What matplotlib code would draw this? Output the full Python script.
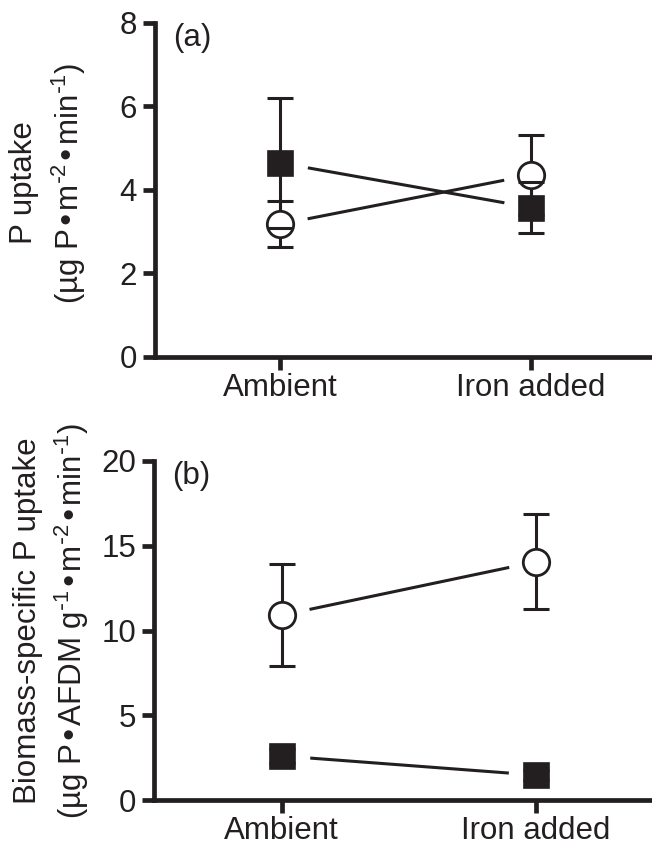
import numpy as np
import matplotlib
matplotlib.use('Agg')
import matplotlib.pyplot as plt

plt.rcParams['font.family'] = ['Liberation Sans', 'DejaVu Sans']
plt.rcParams['mathtext.default'] = 'regular'

# data
groups = ['Ambient', 'Iron added']

a_open = [3.18, 4.36]
a_open_err = [0.55, 0.96]
a_fill = [4.65, 3.58]
a_fill_err = [1.55, 0.60]

b_open = [10.9, 14.05]
b_open_err = [3.0, 2.8]
b_fill = [2.6, 1.47]
b_fill_err = [0.4, 0.3]

K = '#231f20'
FS = 22.5
W, H = 652, 848

fig = plt.figure(figsize=(W/100, H/100), dpi=100)


def panel(ax, y_open, e_open, y_fill, e_fill, xlim, ylim, yticks, tag):
    x = np.arange(len(groups))
    # connecting lines, with white halos to leave a gap at the markers
    ax.plot(x, y_open, color=K, lw=2.2, zorder=1, solid_capstyle='butt')
    ax.plot(x, y_fill, color=K, lw=2.2, zorder=1, solid_capstyle='butt')
    for yy in (y_open, y_fill):
        ax.plot(x, yy, ls='none', marker='o', ms=40, mfc='white', mec='none', zorder=1.5)

    # open circles
    ax.errorbar(x, y_open, yerr=e_open, fmt='none', ecolor=K, elinewidth=2.2,
                capsize=9.7, capthick=2.2, zorder=3)
    ax.plot(x, y_open, ls='none', marker='o', ms=19, mfc='white', mec=K, mew=2.0, zorder=4)

    # filled squares
    _, caps, bars = ax.errorbar(x, y_fill, yerr=e_fill, fmt='none', ecolor=K, elinewidth=2.2,
                                capsize=9.7, capthick=2.2)
    for c in caps:
        c.set_zorder(5)
    for b in bars:
        b.set_zorder(2)
    ax.plot(x, y_fill, ls='none', marker='s', ms=18, mfc=K, mec=K, mew=1.2, zorder=6)

    ax.set_xlim(*xlim)
    ax.set_ylim(*ylim)
    ax.set_yticks(yticks)
    ax.set_xticks(x)
    ax.set_xticklabels(groups)
    for s in ('top', 'right'):
        ax.spines[s].set_visible(False)
    for s in ('left', 'bottom'):
        ax.spines[s].set_linewidth(3.4)
        ax.spines[s].set_color(K)
    ax.tick_params(axis='both', length=9, width=3.4, color=K, labelsize=FS, labelcolor=K)
    ax.tick_params(axis='y', pad=4)
    ax.tick_params(axis='x', pad=2.5)
    ax.text(0.036, 1.0, tag, transform=ax.transAxes, ha='left', va='top', fontsize=FS, color=K)


ax1 = fig.add_axes([155/W, 1 - 357/H, 496/W, 334/H])
panel(ax1, a_open, a_open_err, a_fill, a_fill_err, (-0.498, 1.478), (0, 8), [0, 2, 4, 6, 8], '(a)')

ax2 = fig.add_axes([154/W, 1 - 800/H, 497/W, 339/H])
panel(ax2, b_open, b_open_err, b_fill, b_fill_err, (-0.503, 1.454), (0, 20), [0, 5, 10, 15, 20], '(b)')

fig.text(24/W, 1 - 183/H, 'P uptake', rotation=90, ha='center', va='center', fontsize=FS, color=K)
fig.text(69/W, 1 - 183/H, r'(µg P•m$^{\text{-}2}$•min$^{\text{-}1}$)', rotation=90, ha='center',
         va='center', fontsize=FS, color=K)
fig.text(28/W, 1 - 621/H, 'Biomass-specific P uptake', rotation=90, ha='center', va='center',
         fontsize=FS, color=K)
fig.text(72/W, 1 - 621/H, r'(µg P•AFDM g$^{\text{-}1}$•m$^{\text{-}2}$•min$^{\text{-}1}$)',
         rotation=90, ha='center', va='center', fontsize=FS, color=K)

fig.savefig('out.png', dpi=100)
